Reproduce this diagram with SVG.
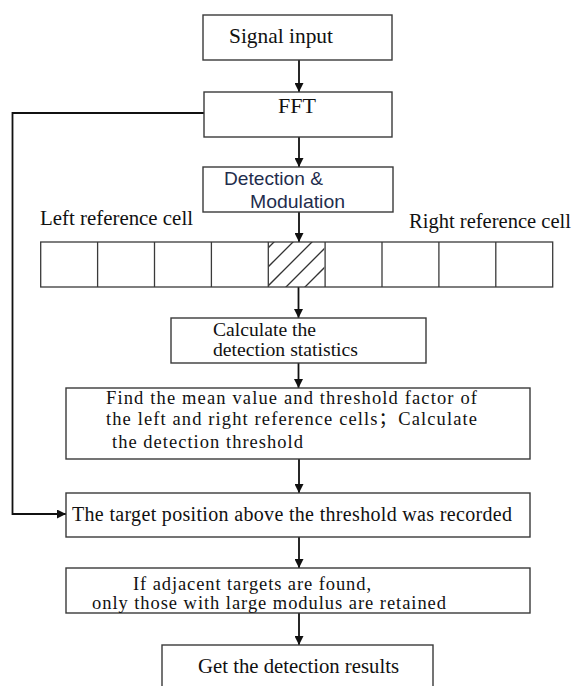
<svg xmlns="http://www.w3.org/2000/svg" width="574" height="686" viewBox="0 0 574 686">
<style>
.box{fill:#fff;stroke:#3a3a3a;stroke-width:1.4}
.cell{fill:none;stroke:#3a3a3a;stroke-width:1.3}
.t{font-family:"Liberation Serif","Noto Sans CJK SC",serif;fill:#111}
.s{font-family:"Liberation Sans",Arial,sans-serif;fill:#1f2d4d}
.ln{fill:none;stroke:#111;stroke-width:1.8}
.hatch{stroke:#333;stroke-width:1.3}
</style>
<defs>
<marker id="ah" viewBox="0 0 10 10" refX="10" refY="5" markerWidth="13" markerHeight="9" markerUnits="userSpaceOnUse" orient="auto">
<path d="M0,0 L10,5 L0,10 Z" fill="#111"/>
</marker>
<clipPath id="hc"><rect x="268.3" y="242" width="56" height="45"/></clipPath>
</defs>
<rect width="574" height="686" fill="#fff"/>

<g id="connectors">
<line class="ln" x1="299" y1="60" x2="299" y2="92" marker-end="url(#ah)"/>
<line class="ln" x1="299" y1="137" x2="299" y2="167" marker-end="url(#ah)"/>
<line class="ln" x1="299" y1="212" x2="299" y2="242" marker-end="url(#ah)"/>
<line class="ln" x1="298.5" y1="287" x2="298.5" y2="318" marker-end="url(#ah)"/>
<line class="ln" x1="298.5" y1="363" x2="298.5" y2="388" marker-end="url(#ah)"/>
<line class="ln" x1="299" y1="459" x2="299" y2="493" marker-end="url(#ah)"/>
<line class="ln" x1="299" y1="537" x2="299" y2="568" marker-end="url(#ah)"/>
<line class="ln" x1="299" y1="613" x2="299" y2="645" marker-end="url(#ah)"/>
<polyline class="ln" points="204,113 12.5,113 12.5,514 66,514" marker-end="url(#ah)"/>
</g>

<g id="signal-input">
<rect class="box" x="203" y="15" width="189" height="45"/>
<text class="t" x="229" y="43" font-size="21" textLength="104" lengthAdjust="spacingAndGlyphs">Signal input</text>
</g>

<g id="fft">
<rect class="box" x="204" y="92" width="188" height="45"/>
<text class="t" x="278" y="113" font-size="21" textLength="38" lengthAdjust="spacingAndGlyphs">FFT</text>
</g>

<g id="detection-modulation">
<rect class="box" x="203" y="167" width="190" height="45"/>
<text class="s" x="224" y="185" font-size="18.5" textLength="99" lengthAdjust="spacingAndGlyphs">Detection &amp;</text>
<text class="s" x="250" y="208" font-size="18.5" textLength="95" lengthAdjust="spacingAndGlyphs">Modulation</text>
</g>

<g id="reference-cells">
<text class="t" x="40" y="225" font-size="20.5" textLength="153" lengthAdjust="spacingAndGlyphs">Left reference cell</text>
<text class="t" x="409" y="228" font-size="20.5" textLength="162" lengthAdjust="spacingAndGlyphs">Right reference cell</text>
<g clip-path="url(#hc)">
<line class="hatch" x1="226" y1="290" x2="277" y2="239"/>
<line class="hatch" x1="245" y1="290" x2="296" y2="239"/>
<line class="hatch" x1="264" y1="290" x2="315" y2="239"/>
<line class="hatch" x1="283" y1="290" x2="334" y2="239"/>
<line class="hatch" x1="302" y1="290" x2="353" y2="239"/>
</g>
<rect class="cell" x="40.7" y="242" width="512" height="45"/>
<line class="cell" x1="97.6" y1="242" x2="97.6" y2="287"/>
<line class="cell" x1="154.5" y1="242" x2="154.5" y2="287"/>
<line class="cell" x1="211.4" y1="242" x2="211.4" y2="287"/>
<line class="cell" x1="268.3" y1="242" x2="268.3" y2="287"/>
<line class="cell" x1="325.1" y1="242" x2="325.1" y2="287"/>
<line class="cell" x1="382" y1="242" x2="382" y2="287"/>
<line class="cell" x1="438.9" y1="242" x2="438.9" y2="287"/>
<line class="cell" x1="495.8" y1="242" x2="495.8" y2="287"/>
</g>

<g id="calc-statistics">
<rect class="box" x="171" y="318" width="255" height="45"/>
<text class="t" x="213" y="336" font-size="18.5" textLength="103" lengthAdjust="spacingAndGlyphs">Calculate the</text>
<text class="t" x="213" y="356" font-size="18.5" textLength="145" lengthAdjust="spacingAndGlyphs">detection statistics</text>
</g>

<g id="find-threshold">
<rect class="box" x="66" y="388" width="464" height="71"/>
<text class="t" x="106" y="404" font-size="18.5" textLength="371" lengthAdjust="spacing">Find the mean value and threshold factor of</text>
<text class="t" x="106" y="425" font-size="18.5" textLength="371" lengthAdjust="spacing">the left and right reference cells；Calculate</text>
<text class="t" x="112" y="448" font-size="18.5" textLength="191" lengthAdjust="spacing">the detection threshold</text>
</g>

<g id="record-target">
<rect class="box" x="66" y="493" width="464" height="44"/>
<text class="t" x="72" y="521" font-size="20" textLength="440" lengthAdjust="spacing">The target position above the threshold was recorded</text>
</g>

<g id="adjacent-targets">
<rect class="box" x="66" y="568" width="464" height="45"/>
<text class="t" x="133" y="590" font-size="18.5" textLength="238" lengthAdjust="spacing">If adjacent targets are found,</text>
<text class="t" x="92" y="609" font-size="18.5" textLength="354" lengthAdjust="spacing">only those with large modulus are retained</text>
</g>

<g id="detection-results">
<rect class="box" x="162" y="645" width="271" height="60"/>
<text class="t" x="198" y="673" font-size="20.5" textLength="201" lengthAdjust="spacingAndGlyphs">Get the detection results</text>
</g>
</svg>
